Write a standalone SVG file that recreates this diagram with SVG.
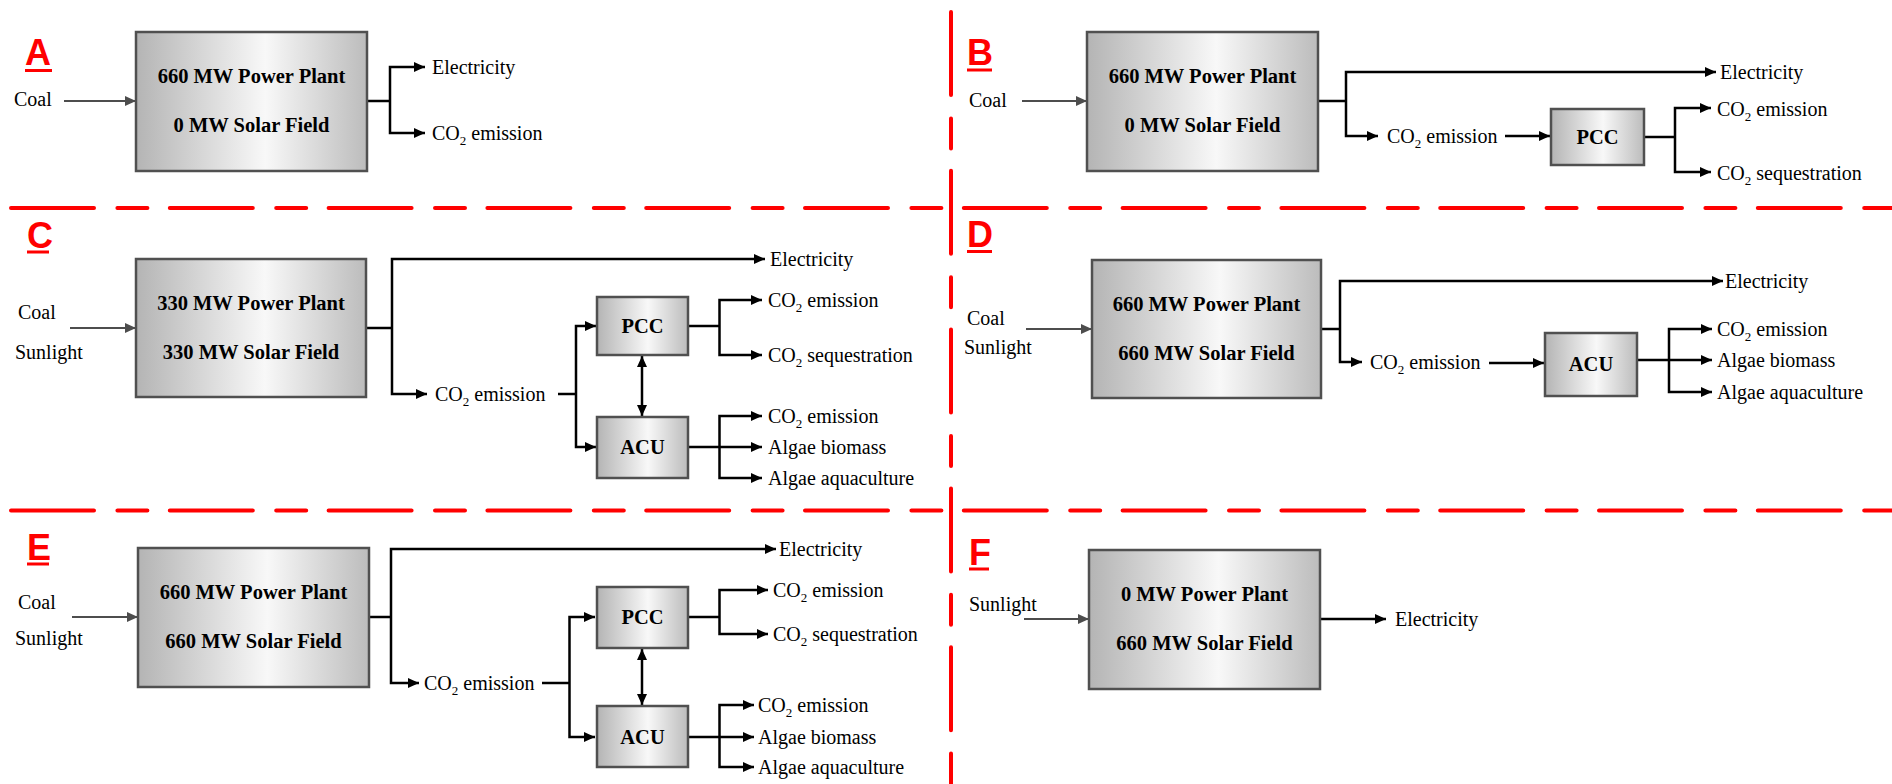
<svg xmlns="http://www.w3.org/2000/svg" width="1892" height="784" viewBox="0 0 1892 784">
<defs>
<linearGradient id="g" x1="0" y1="0" x2="1" y2="0">
<stop offset="0" stop-color="#b4b4b4"/>
<stop offset="0.56" stop-color="#f8f8f8"/>
<stop offset="1" stop-color="#bcbcbc"/>
</linearGradient>
<marker id="ah" markerUnits="userSpaceOnUse" markerWidth="12" markerHeight="11" refX="11" refY="5" orient="auto-start-reverse"><path d="M0,0 L11,5 L0,10 z" fill="#000"/></marker>
<marker id="ahg" markerUnits="userSpaceOnUse" markerWidth="12" markerHeight="11" refX="11" refY="5" orient="auto"><path d="M0,0 L11,5 L0,10 z" fill="#4d4d4d"/></marker>
</defs>
<style>
.box{fill:url(#g);stroke:#505050;stroke-width:2.5}
.bt{font-family:"Liberation Serif","Times New Roman",serif;font-weight:bold;font-size:20.5px;text-anchor:middle;fill:#000}
.t{font-family:"Liberation Serif","Times New Roman",serif;font-size:20px;fill:#000}
.s{font-size:13px}
.c{fill:none;stroke:#000;stroke-width:2.5}
.a{fill:none;stroke:#000;stroke-width:2.5;marker-end:url(#ah)}
.d{fill:none;stroke:#000;stroke-width:2.5;marker-end:url(#ah);marker-start:url(#ah)}
.in{fill:none;stroke:#4d4d4d;stroke-width:2;marker-end:url(#ahg)}
.sep{fill:none;stroke:#ff0000;stroke-width:4;stroke-linecap:round;stroke-dasharray:83 23.4 30 22.4}
.lab{font-family:"Liberation Sans",Arial,sans-serif;font-weight:bold;font-size:36px;fill:#ff0000}
.ul{stroke:#ff0000;stroke-width:3}
</style>
<rect width="1892" height="784" fill="#fff"/>

<g id="separators">
<line class="sep" x1="11" y1="208" x2="1892" y2="208"/>
<line class="sep" x1="11" y1="510.5" x2="1892" y2="510.5"/>
<line class="sep" x1="951" y1="12" x2="951" y2="784"/>
</g>

<g id="connectors">
<!-- A -->
<line class="in" x1="64" y1="101" x2="136" y2="101"/>
<polyline class="c" points="367,101 390,101"/>
<polyline class="a" points="390,101 390,67 425,67"/>
<polyline class="a" points="390,101 390,133 425,133"/>
<!-- B -->
<line class="in" x1="1022" y1="101" x2="1087" y2="101"/>
<polyline class="c" points="1318,101 1346,101"/>
<polyline class="a" points="1346,101 1346,72 1716,72"/>
<polyline class="a" points="1346,101 1346,136 1378,136"/>
<line class="a" x1="1505" y1="136" x2="1550" y2="136"/>
<polyline class="c" points="1644,137 1675,137"/>
<polyline class="a" points="1675,137 1675,108 1711,108"/>
<polyline class="a" points="1675,137 1675,172 1711,172"/>
<!-- C -->
<line class="in" x1="70" y1="328" x2="136" y2="328"/>
<polyline class="c" points="366,328 392,328"/>
<polyline class="a" points="392,328 392,259 765,259"/>
<polyline class="a" points="392,328 392,394 427,394"/>
<polyline class="c" points="558,394 576,394"/>
<polyline class="a" points="576,394 576,326 596,326"/>
<polyline class="a" points="576,394 576,447 596,447"/>
<line class="d" x1="642" y1="356" x2="642" y2="416"/>
<polyline class="c" points="688,326 719.5,326"/>
<polyline class="a" points="719.5,326 719.5,300 762,300"/>
<polyline class="a" points="719.5,326 719.5,355 762,355"/>
<line class="a" x1="688" y1="447" x2="762" y2="447"/>
<polyline class="a" points="719.5,447 719.5,416 762,416"/>
<polyline class="a" points="719.5,447 719.5,478 762,478"/>
<!-- D -->
<line class="in" x1="1026" y1="329" x2="1092" y2="329"/>
<polyline class="c" points="1321,329 1340,329"/>
<polyline class="a" points="1340,329 1340,281 1723,281"/>
<polyline class="a" points="1340,329 1340,362 1362,362"/>
<line class="a" x1="1489" y1="363" x2="1544" y2="363"/>
<line class="a" x1="1637" y1="360" x2="1712" y2="360"/>
<polyline class="a" points="1669,360 1669,329 1712,329"/>
<polyline class="a" points="1669,360 1669,392 1712,392"/>
<!-- E -->
<line class="in" x1="72" y1="617" x2="138" y2="617"/>
<polyline class="c" points="369,617 391,617"/>
<polyline class="a" points="391,617 391,549 776,549"/>
<polyline class="a" points="391,617 391,683 419,683"/>
<polyline class="c" points="542,683 569.5,683"/>
<polyline class="a" points="569.5,683 569.5,617 595,617"/>
<polyline class="a" points="569.5,683 569.5,737 595,737"/>
<line class="d" x1="642" y1="649" x2="642" y2="705"/>
<polyline class="c" points="688,617 719.5,617"/>
<polyline class="a" points="719.5,617 719.5,590 768,590"/>
<polyline class="a" points="719.5,617 719.5,634 768,634"/>
<line class="a" x1="688" y1="737" x2="754" y2="737"/>
<polyline class="a" points="719.5,737 719.5,705 754,705"/>
<polyline class="a" points="719.5,737 719.5,767 754,767"/>
<!-- F -->
<line class="in" x1="1024" y1="619" x2="1089" y2="619"/>
<line class="a" x1="1320" y1="619" x2="1386" y2="619"/>
</g>

<g id="panel-A">
<text class="lab" x="25" y="65">A</text><line class="ul" x1="25" y1="70.5" x2="52" y2="70.5"/>
<g id="A-coal"><text class="t" x="14" y="106">Coal</text></g>
<g id="A-plant"><rect class="box" x="136" y="32" width="231" height="139"/>
<text class="bt" x="251.5" y="83">660 MW Power Plant</text><text class="bt" x="251.5" y="132">0 MW Solar Field</text></g>
<g id="A-electricity"><text class="t" x="432" y="74">Electricity</text></g>
<g id="A-co2"><text class="t" x="432" y="140">CO<tspan class="s" dy="5">2</tspan><tspan dy="-5"> emission</tspan></text></g>
</g>

<g id="panel-B">
<text class="lab" x="967" y="65">B</text><line class="ul" x1="967" y1="70" x2="992" y2="70"/>
<g id="B-coal"><text class="t" x="969" y="107">Coal</text></g>
<g id="B-plant"><rect class="box" x="1087" y="32" width="231" height="139"/>
<text class="bt" x="1202.5" y="83">660 MW Power Plant</text><text class="bt" x="1202.5" y="132">0 MW Solar Field</text></g>
<g id="B-electricity"><text class="t" x="1720" y="79">Electricity</text></g>
<g id="B-co2"><text class="t" x="1387" y="143">CO<tspan class="s" dy="5">2</tspan><tspan dy="-5"> emission</tspan></text></g>
<g id="B-pcc"><rect class="box" x="1551" y="109" width="93" height="56"/><text class="bt" x="1597.5" y="144">PCC</text></g>
<g id="B-pcc-co2"><text class="t" x="1717" y="116">CO<tspan class="s" dy="5">2</tspan><tspan dy="-5"> emission</tspan></text></g>
<g id="B-pcc-seq"><text class="t" x="1717" y="180">CO<tspan class="s" dy="5">2</tspan><tspan dy="-5"> sequestration</tspan></text></g>
</g>

<g id="panel-C">
<text class="lab" x="27" y="248">C</text><line class="ul" x1="27" y1="252" x2="49" y2="252"/>
<g id="C-inputs"><text class="t" x="18" y="319">Coal</text><text class="t" x="15" y="359">Sunlight</text></g>
<g id="C-plant"><rect class="box" x="136" y="259" width="230" height="138"/>
<text class="bt" x="251" y="310">330 MW Power Plant</text><text class="bt" x="251" y="359">330 MW Solar Field</text></g>
<g id="C-electricity"><text class="t" x="770" y="266">Electricity</text></g>
<g id="C-co2"><text class="t" x="435" y="401">CO<tspan class="s" dy="5">2</tspan><tspan dy="-5"> emission</tspan></text></g>
<g id="C-pcc"><rect class="box" x="597" y="297" width="91" height="58"/><text class="bt" x="642.5" y="333">PCC</text></g>
<g id="C-acu"><rect class="box" x="597" y="417" width="91" height="61"/><text class="bt" x="642.5" y="454">ACU</text></g>
<g id="C-pcc-out"><text class="t" x="768" y="307">CO<tspan class="s" dy="5">2</tspan><tspan dy="-5"> emission</tspan></text>
<text class="t" x="768" y="362">CO<tspan class="s" dy="5">2</tspan><tspan dy="-5"> sequestration</tspan></text></g>
<g id="C-acu-out"><text class="t" x="768" y="423">CO<tspan class="s" dy="5">2</tspan><tspan dy="-5"> emission</tspan></text>
<text class="t" x="768" y="454">Algae biomass</text><text class="t" x="768" y="485">Algae aquaculture</text></g>
</g>

<g id="panel-D">
<text class="lab" x="967" y="247">D</text><line class="ul" x1="967" y1="251.5" x2="992" y2="251.5"/>
<g id="D-inputs"><text class="t" x="967" y="325">Coal</text><text class="t" x="964" y="354">Sunlight</text></g>
<g id="D-plant"><rect class="box" x="1092" y="260" width="229" height="138"/>
<text class="bt" x="1206.5" y="311">660 MW Power Plant</text><text class="bt" x="1206.5" y="360">660 MW Solar Field</text></g>
<g id="D-electricity"><text class="t" x="1725" y="288">Electricity</text></g>
<g id="D-co2"><text class="t" x="1370" y="369">CO<tspan class="s" dy="5">2</tspan><tspan dy="-5"> emission</tspan></text></g>
<g id="D-acu"><rect class="box" x="1545" y="333" width="92" height="63"/><text class="bt" x="1591" y="371">ACU</text></g>
<g id="D-acu-out"><text class="t" x="1717" y="336">CO<tspan class="s" dy="5">2</tspan><tspan dy="-5"> emission</tspan></text>
<text class="t" x="1717" y="367">Algae biomass</text><text class="t" x="1717" y="399">Algae aquaculture</text></g>
</g>

<g id="panel-E">
<text class="lab" x="27" y="560">E</text><line class="ul" x1="27" y1="564" x2="49" y2="564"/>
<g id="E-inputs"><text class="t" x="18" y="609">Coal</text><text class="t" x="15" y="645">Sunlight</text></g>
<g id="E-plant"><rect class="box" x="138" y="548" width="231" height="139"/>
<text class="bt" x="253.5" y="599">660 MW Power Plant</text><text class="bt" x="253.5" y="648">660 MW Solar Field</text></g>
<g id="E-electricity"><text class="t" x="779" y="556">Electricity</text></g>
<g id="E-co2"><text class="t" x="424" y="690">CO<tspan class="s" dy="5">2</tspan><tspan dy="-5"> emission</tspan></text></g>
<g id="E-pcc"><rect class="box" x="597" y="587" width="91" height="61"/><text class="bt" x="642.5" y="624">PCC</text></g>
<g id="E-acu"><rect class="box" x="597" y="706" width="91" height="61"/><text class="bt" x="642.5" y="744">ACU</text></g>
<g id="E-pcc-out"><text class="t" x="773" y="597">CO<tspan class="s" dy="5">2</tspan><tspan dy="-5"> emission</tspan></text>
<text class="t" x="773" y="641">CO<tspan class="s" dy="5">2</tspan><tspan dy="-5"> sequestration</tspan></text></g>
<g id="E-acu-out"><text class="t" x="758" y="712">CO<tspan class="s" dy="5">2</tspan><tspan dy="-5"> emission</tspan></text>
<text class="t" x="758" y="744">Algae biomass</text><text class="t" x="758" y="774">Algae aquaculture</text></g>
</g>

<g id="panel-F">
<text class="lab" x="969" y="565">F</text><line class="ul" x1="969" y1="569" x2="989" y2="569"/>
<g id="F-sunlight"><text class="t" x="969" y="611">Sunlight</text></g>
<g id="F-plant"><rect class="box" x="1089" y="550" width="231" height="139"/>
<text class="bt" x="1204.5" y="601">0 MW Power Plant</text><text class="bt" x="1204.5" y="650">660 MW Solar Field</text></g>
<g id="F-electricity"><text class="t" x="1395" y="626">Electricity</text></g>
</g>
</svg>
